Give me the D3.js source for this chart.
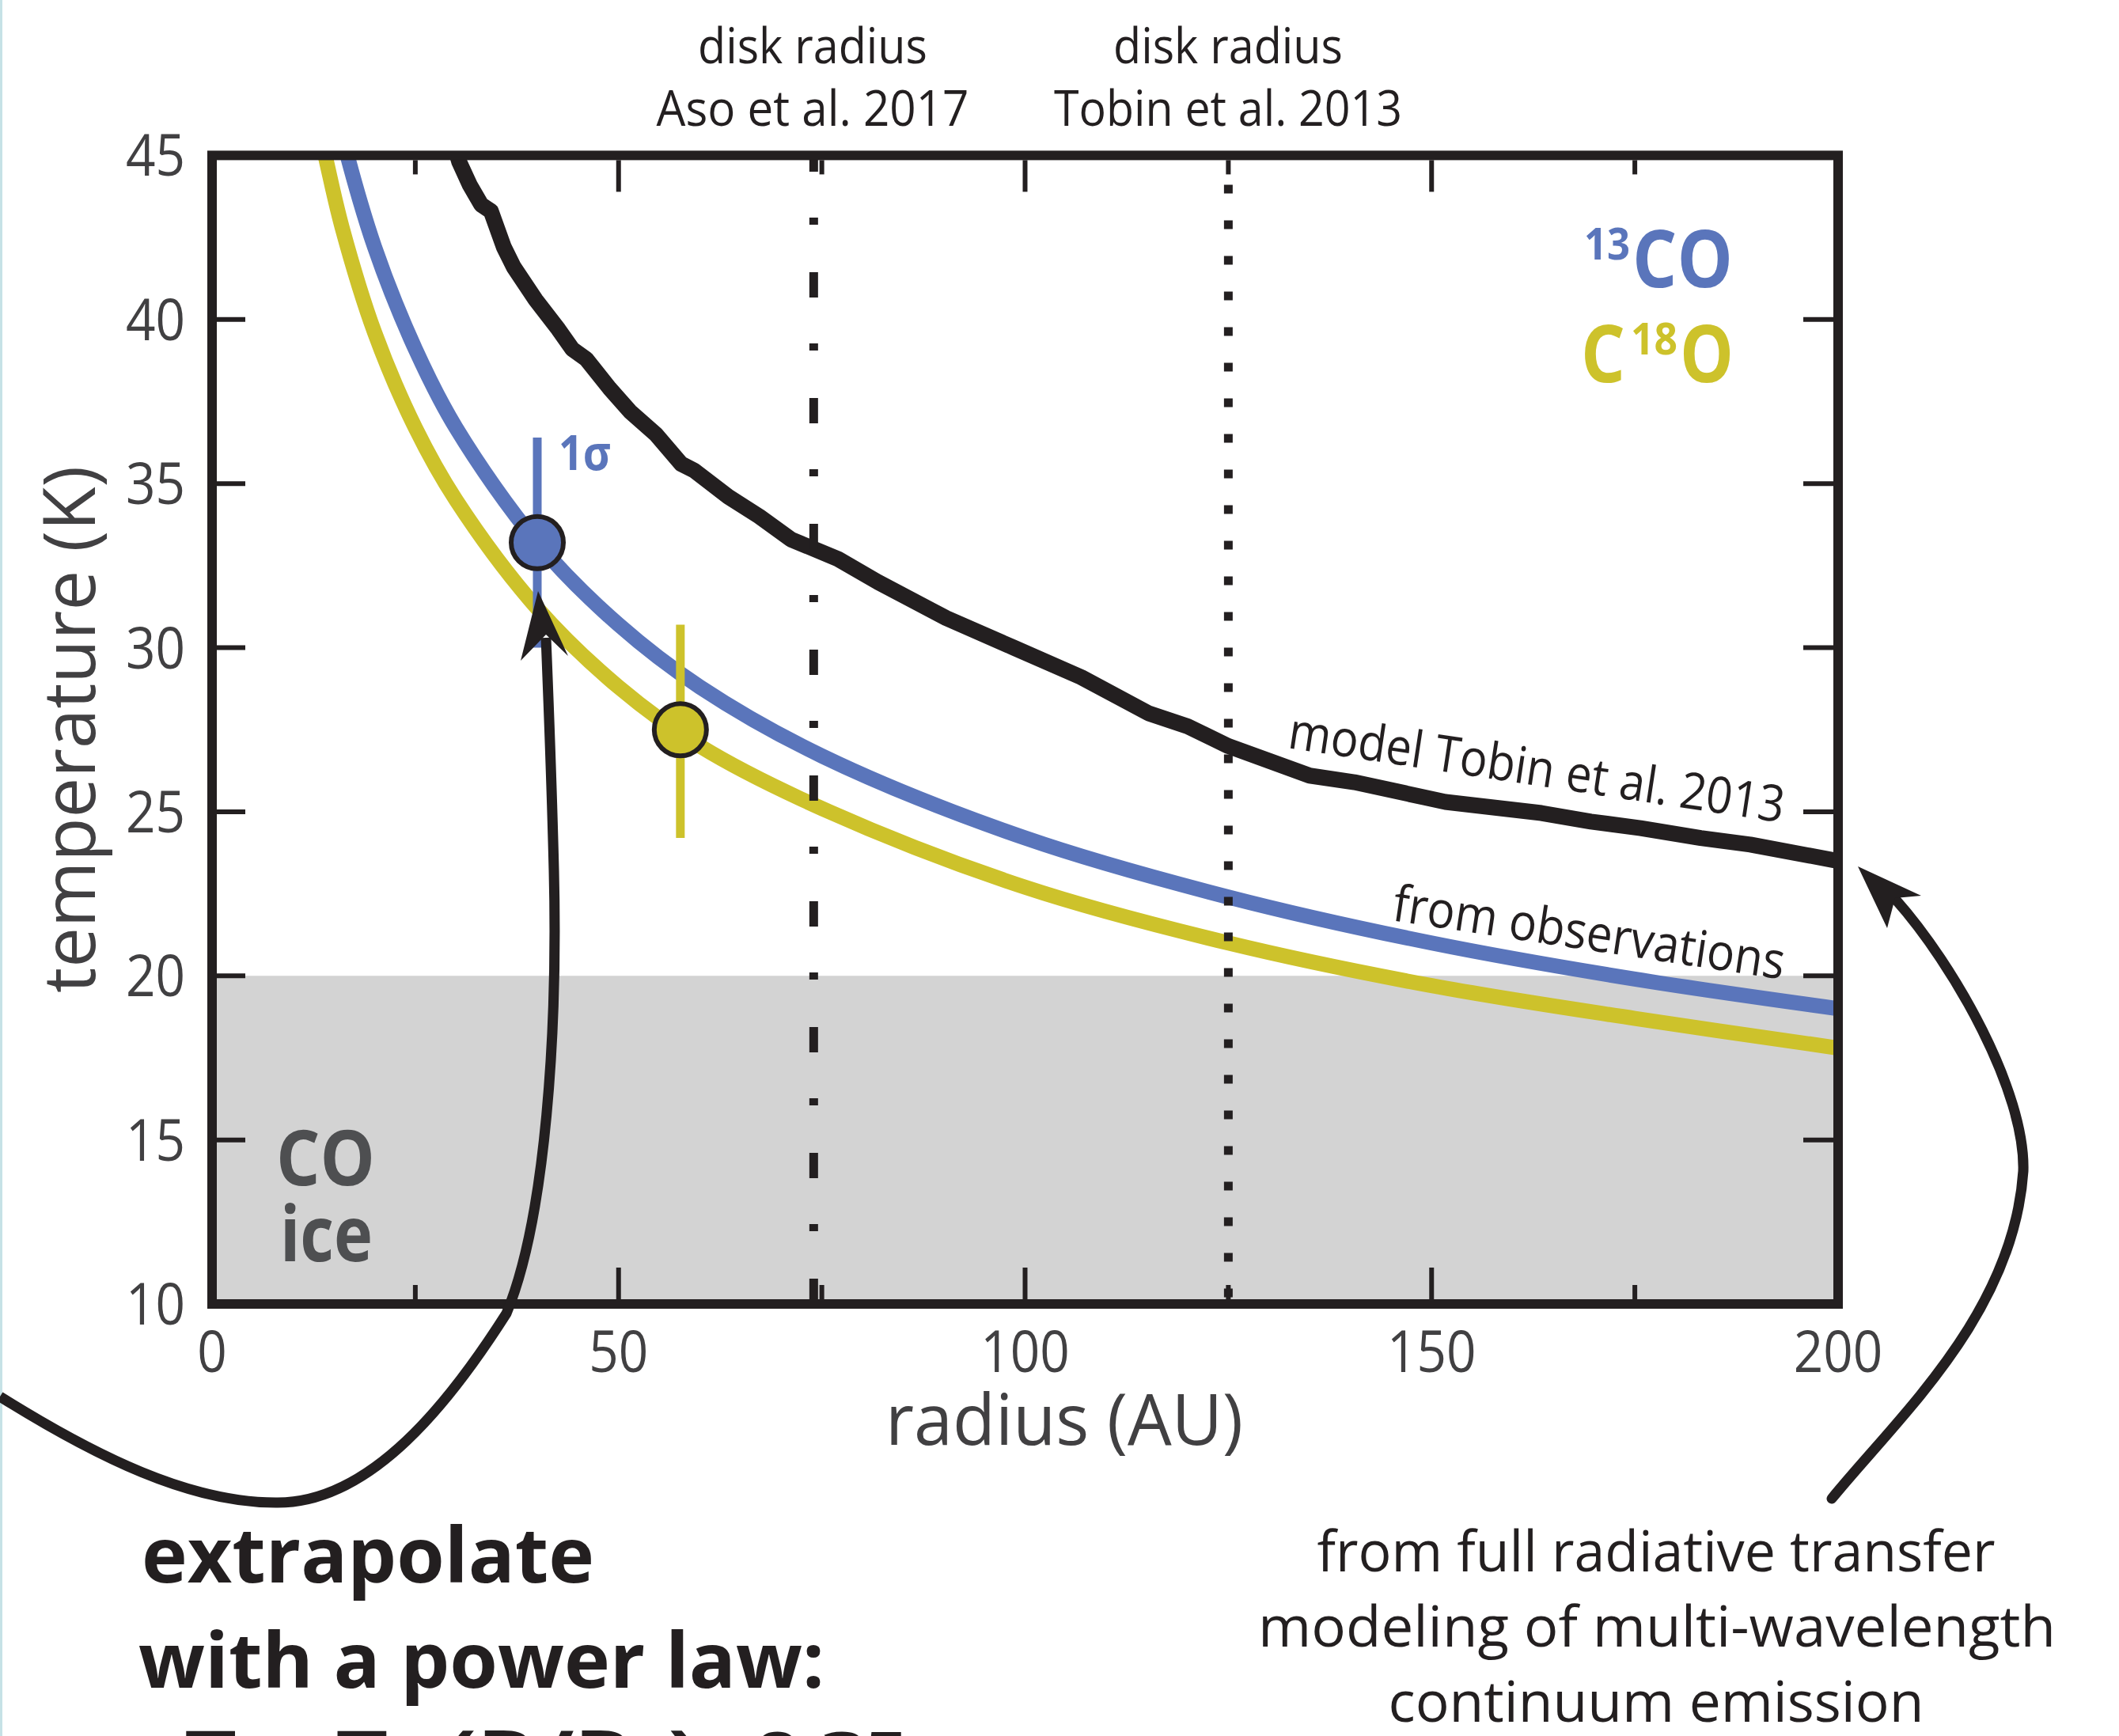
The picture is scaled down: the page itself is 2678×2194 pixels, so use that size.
<!DOCTYPE html>
<html><head><meta charset="utf-8">
<script src="https://cdn.jsdelivr.net/npm/d3@7/dist/d3.min.js"></script>
<style>html,body{margin:0;padding:0;background:#fff;}svg{display:block;}</style>
</head><body>
<svg id="chart" width="2678" height="2194"></svg>
<script>
// ---------------- DATA ----------------
const xTicksMajor = [0, 50, 100, 150, 200];
const xTicksMinor = [25, 75, 125, 175];
const yTickLabels = [10, 15, 20, 25, 30, 35, 40, 45];
const yTicksInner = [15, 20, 25, 30, 35, 40];

// 13CO power-law temperature profile
const radiusBlue = [15, 16, 20, 25, 30, 40, 50, 60, 75, 100, 125, 150, 175, 200];
const tempBlue   = [46.7, 45.6, 42.2, 39.1, 36.7, 33.2, 30.7, 28.8, 26.7, 24.2, 22.4, 21.0, 19.9, 19.0];

// C18O power-law temperature profile
const radiusYellow = [13, 14, 16, 20, 25, 30, 40, 50, 60, 75, 100, 125, 150, 175, 200];
const tempYellow   = [46.0, 44.9, 42.8, 39.6, 36.7, 34.5, 31.2, 28.8, 27.0, 25.1, 22.7, 21.0, 19.7, 18.7, 17.8];

// model Tobin et al. 2013
const radiusModel = [29.8, 30.4, 31.7, 33.1, 34.3, 35.9, 37.1, 39.8, 42.6, 44.3, 46.0, 48.9, 51.4, 54.6, 57.7, 59.3, 63.5, 67.3, 71.2, 77.0, 81.9, 90.3, 98.6, 106.9, 115.2, 120.0, 125.0, 135.0, 140.5, 151.7, 163.5, 169.6, 175.7, 183.1, 189.2, 200];
const tempModel   = [45.3, 44.8, 44.1, 43.5, 43.3, 42.2, 41.6, 40.6, 39.7, 39.1, 38.8, 37.9, 37.2, 36.5, 35.6, 35.4, 34.6, 34.0, 33.3, 32.7, 32.0, 30.9, 30.0, 29.1, 28.0, 27.6, 27.0, 26.1, 25.9, 25.3, 24.96, 24.7, 24.5, 24.2, 24.0, 23.5];

// measured points with 1 sigma error bars
const pointSeries = ["13CO", "C18O"];
const pointRadius = [40, 57.6];
const pointTemp   = [33.2, 27.5];
const pointLow    = [30.0, 24.2];
const pointHigh   = [36.4, 30.7];

// disk radii
const diskRadii  = [74, 125];
const diskLabel1 = ["disk radius", "disk radius"];
const diskLabel2 = ["Aso et al. 2017", "Tobin et al. 2013"];

// CO ice temperature range
const iceRange = [10, 20];

// ---------------- STYLE / LAYOUT ----------------
const BLUE = "#5a75bb", YELLOW = "#cdc22b", BLACK = "#231f20", GREY_TXT = "#414042";
const FONT = "'Open Sans', 'Noto Sans', sans-serif";

const svg = d3.select("#chart");
const x = d3.scaleLinear().domain([0, 200]).range([268, 2323]);
const y = d3.scaleLinear().domain([10, 45]).range([1648, 196.4]);

// left border strip
svg.append("rect").attr("x", 0).attr("y", 0).attr("width", 3).attr("height", 2194).attr("fill", "#c6e2e6");

svg.append("defs").append("clipPath").attr("id", "plotclip")
  .append("rect").attr("x", x(0)).attr("y", y(45)).attr("width", x(200) - x(0)).attr("height", y(10) - y(45));

// CO ice region
svg.append("rect")
  .attr("x", x(0)).attr("width", x(200) - x(0))
  .attr("y", y(iceRange[1])).attr("height", y(iceRange[0]) - y(iceRange[1]))
  .attr("fill", "#d3d3d3");

const plot = svg.append("g").attr("clip-path", "url(#plotclip)");
const line = d3.line().x(d => x(d[0])).y(d => y(d[1]));
const smooth = d3.line().x(d => x(d[0])).y(d => y(d[1])).curve(d3.curveCatmullRom);

plot.append("path").datum(d3.zip(radiusYellow, tempYellow)).attr("d", smooth)
  .attr("fill", "none").attr("stroke", YELLOW).attr("stroke-width", 19);
plot.append("path").datum(d3.zip(radiusBlue, tempBlue)).attr("d", smooth)
  .attr("fill", "none").attr("stroke", BLUE).attr("stroke-width", 19);
plot.append("path").datum(d3.zip(radiusModel, tempModel)).attr("d", line)
  .attr("fill", "none").attr("stroke", BLACK).attr("stroke-width", 20).attr("stroke-linejoin", "round");

// disk radius lines (drawn from bottom up)
plot.append("line").attr("x1", x(diskRadii[0])).attr("x2", x(diskRadii[0]))
  .attr("y1", y(10)).attr("y2", y(45)).attr("stroke", BLACK).attr("stroke-width", 11)
  .attr("stroke-dasharray", "32,60,9,58");
plot.append("line").attr("x1", x(diskRadii[1])).attr("x2", x(diskRadii[1]))
  .attr("y1", y(45)).attr("y2", y(10)).attr("stroke", BLACK).attr("stroke-width", 11)
  .attr("stroke-dasharray", "11,34").attr("stroke-dashoffset", 8);

// error bars + points
const pColor = [BLUE, YELLOW];
pointSeries.forEach((s, i) => {
  plot.append("line").attr("x1", x(pointRadius[i])).attr("x2", x(pointRadius[i]))
    .attr("y1", y(pointLow[i])).attr("y2", y(pointHigh[i]))
    .attr("stroke", pColor[i]).attr("stroke-width", 11);
});
pointSeries.forEach((s, i) => {
  plot.append("circle").attr("cx", x(pointRadius[i])).attr("cy", y(pointTemp[i])).attr("r", 33)
    .attr("fill", pColor[i]).attr("stroke", BLACK).attr("stroke-width", 6);
});

// ticks
const T = svg.append("g").attr("stroke", BLACK).attr("stroke-width", 6);
const inner = 6; // half frame width
xTicksMajor.concat(xTicksMinor).forEach(v => {
  if (v === 0 || v === 200) return;
  const len = xTicksMajor.includes(v) ? 40 : 18;
  T.append("line").attr("x1", x(v)).attr("x2", x(v)).attr("y1", y(10) - inner).attr("y2", y(10) - inner - len);
  T.append("line").attr("x1", x(v)).attr("x2", x(v)).attr("y1", y(45) + inner).attr("y2", y(45) + inner + len);
});
yTicksInner.forEach(v => {
  T.append("line").attr("x1", x(0) + inner).attr("x2", x(0) + inner + 36).attr("y1", y(v)).attr("y2", y(v));
  T.append("line").attr("x1", x(200) - inner).attr("x2", x(200) - inner - 38).attr("y1", y(v)).attr("y2", y(v));
});

// frame
svg.append("rect").attr("x", x(0)).attr("y", y(45)).attr("width", x(200) - x(0)).attr("height", y(10) - y(45))
  .attr("fill", "none").attr("stroke", BLACK).attr("stroke-width", 12);

function txt(str, opts) {
  const t = svg.append("text").text(str)
    .attr("font-family", FONT)
    .attr("font-size", opts.size)
    .attr("font-weight", opts.weight || 400)
    .attr("fill", opts.fill || BLACK)
    .attr("text-anchor", opts.anchor || "start");
  if (opts.transform) t.attr("transform", opts.transform); else t.attr("x", opts.x).attr("y", opts.y);
  if (opts.len) t.attr("textLength", opts.len).attr("lengthAdjust", "spacingAndGlyphs");
  return t;
}

// tick labels
xTicksMajor.forEach(v => txt(String(v), {x: x(v), y: 1734, size: 74, fill: GREY_TXT, anchor: "middle", len: 37.5 * String(v).length}));
yTickLabels.forEach(v => txt(String(v), {x: 234, y: y(v) + 26, size: 74, fill: GREY_TXT, anchor: "end", len: 37.5 * String(v).length}));

// axis titles
txt("radius (AU)", {x: 1345, y: 1826, size: 90, fill: GREY_TXT, anchor: "middle", len: 452});
txt("temperature (K)", {transform: "translate(120,922) rotate(-90)", size: 92, fill: GREY_TXT, anchor: "middle", len: 666});

// disk radius labels
diskRadii.forEach((r, i) => {
  const cx = i === 0 ? 1027 : 1552;
  txt(diskLabel1[i], {x: cx, y: 80, size: 62, anchor: "middle", len: 290});
  txt(diskLabel2[i], {x: cx, y: 159, size: 62, anchor: "middle", len: i === 0 ? 395 : 440});
});

// legend
const l1 = svg.append("text").attr("font-family", FONT).attr("font-weight", 700).attr("fill", BLUE);
l1.append("tspan").attr("x", 2002).attr("y", 328).attr("font-size", 56).text("13")
  .attr("textLength", 58).attr("lengthAdjust", "spacingAndGlyphs");
l1.append("tspan").attr("x", 2063).attr("y", 363).attr("font-size", 100).text("CO")
  .attr("textLength", 127).attr("lengthAdjust", "spacingAndGlyphs");
const l2 = svg.append("text").attr("font-family", FONT).attr("font-weight", 700).attr("fill", YELLOW);
l2.append("tspan").attr("x", 1998).attr("y", 483).attr("font-size", 100).text("C")
  .attr("textLength", 56).attr("lengthAdjust", "spacingAndGlyphs");
l2.append("tspan").attr("x", 2061).attr("y", 448).attr("font-size", 56).text("18")
  .attr("textLength", 59).attr("lengthAdjust", "spacingAndGlyphs");
l2.append("tspan").attr("x", 2123).attr("y", 483).attr("font-size", 100).text("O")
  .attr("textLength", 68).attr("lengthAdjust", "spacingAndGlyphs");

// 1 sigma
txt("1σ", {x: 706, y: 594, size: 60, weight: 700, fill: BLUE, len: 66});

// CO ice
txt("CO", {x: 349, y: 1498, size: 97, weight: 700, fill: "#4e4f51", len: 125});
txt("ice", {x: 354, y: 1594, size: 97, weight: 700, fill: "#4e4f51", len: 117});

// curve annotations
txt("model Tobin et al. 2013", {transform: "translate(1626,945) rotate(8.6)", size: 64, len: 633});
txt("from observations", {transform: "translate(1758,1163) rotate(8.6)", size: 64, len: 500});

// bottom right note
txt("from full radiative transfer", {x: 2093, y: 1986, size: 72, anchor: "middle", len: 857});
txt("modeling of multi-wavelength", {x: 2094, y: 2081, size: 72, anchor: "middle", len: 1008});
txt("continuum emission", {x: 2093, y: 2176, size: 72, anchor: "middle", len: 677});

// bottom left note
txt("extrapolate", {x: 179, y: 2000, size: 96, weight: 700, len: 572});
txt("with a power law:", {x: 175, y: 2133, size: 96, weight: 700, len: 867});
const eq = svg.append("text").attr("font-family", FONT).attr("font-weight", 700).attr("fill", BLACK);
eq.append("tspan").attr("x", 233).attr("y", 2257).attr("font-size", 96).text("T = T₀ (R/R₀)")
  .attr("textLength", 650).attr("lengthAdjust", "spacingAndGlyphs");
eq.append("tspan").attr("x", 900).attr("y", 2233).attr("font-size", 60).text("−0.35")
  .attr("textLength", 248).attr("lengthAdjust", "spacingAndGlyphs");

// arrows (annotation)
const A = svg.append("g").attr("fill", "none").attr("stroke", BLACK).attr("stroke-width", 13).attr("stroke-linecap", "round");
A.append("path").attr("d", "M0,1765 C120,1840 240,1900 351,1899 C470,1899 570,1770 640,1660 C690,1540 705,1300 700,1100 C697,980 693,880 690,806")
  .attr("stroke-linecap", "butt");
A.append("path").attr("d", "M2315,1894 C2400,1790 2545,1660 2557,1480 C2560,1380 2470,1220 2395,1136");
svg.append("path").attr("d", "M680,747 L718,829 L690,802 L658,835 Z").attr("fill", BLACK);
svg.append("path").attr("d", "M2348,1095 L2428,1132 L2395,1135 L2385,1173 Z").attr("fill", BLACK);
</script>
</body></html>
